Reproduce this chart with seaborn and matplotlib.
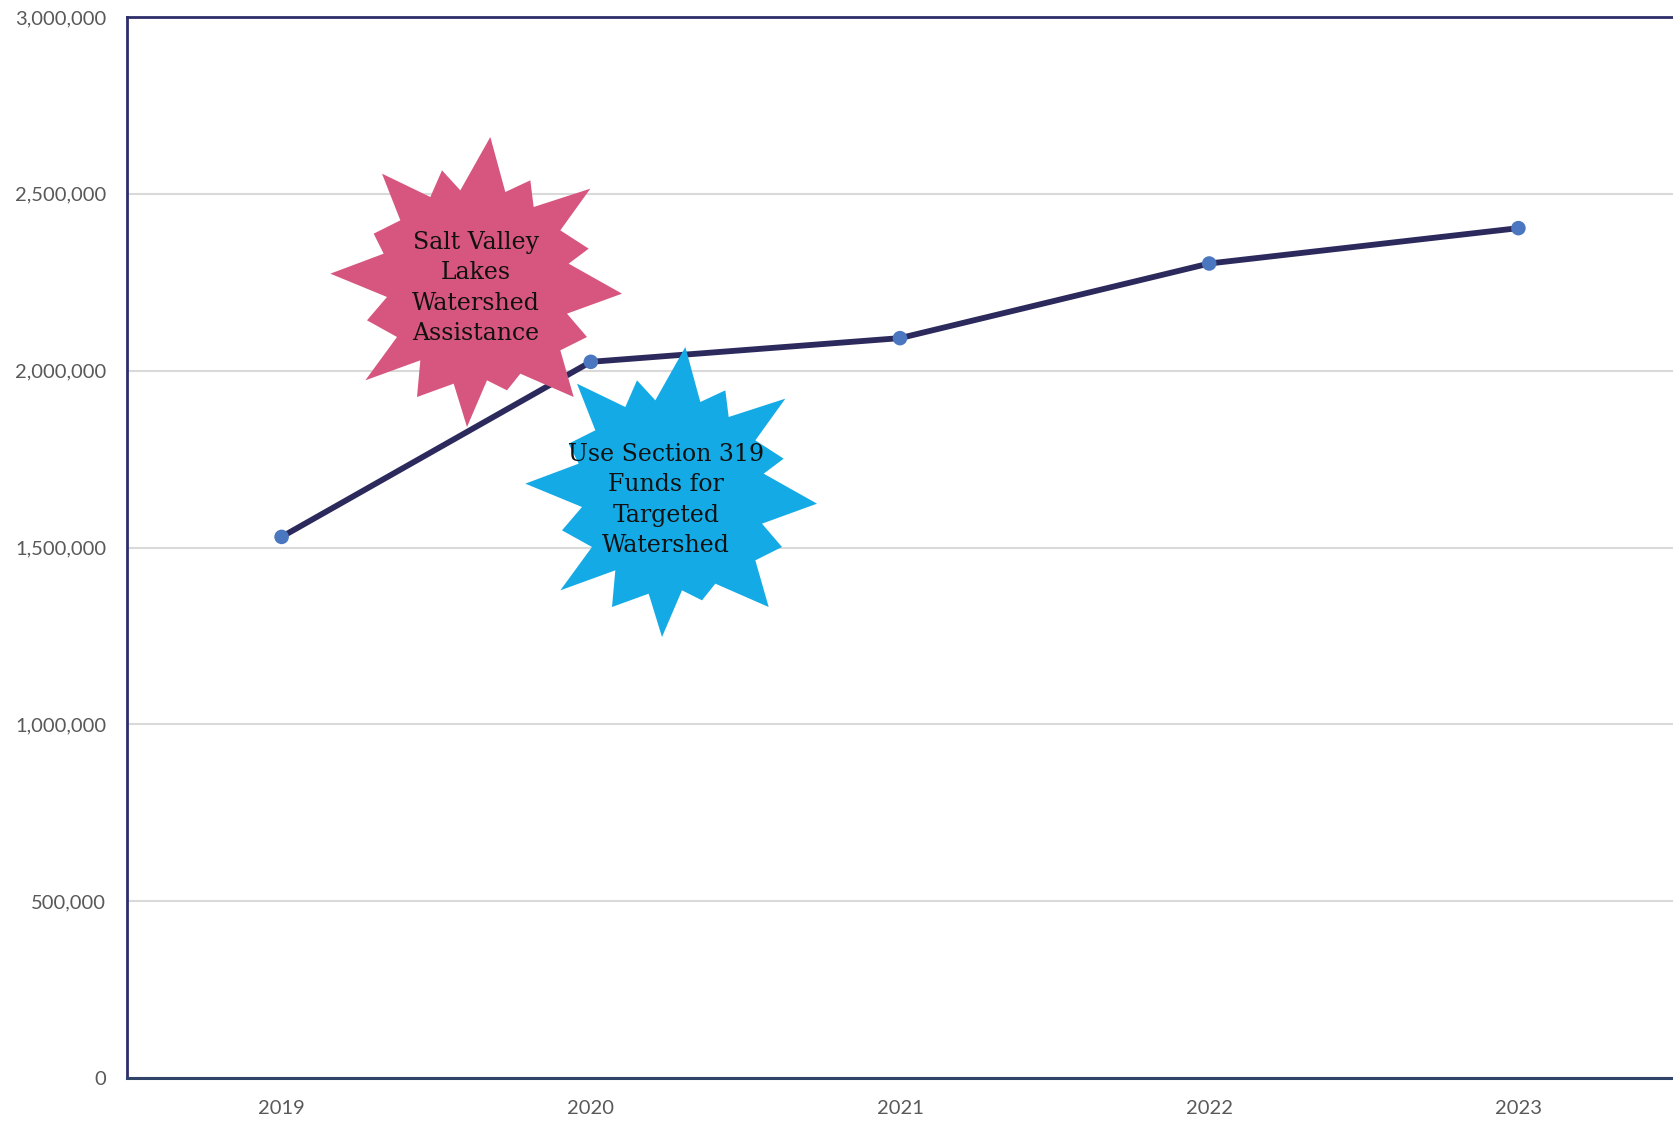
import matplotlib
matplotlib.use("Agg")
import matplotlib.pyplot as plt
import seaborn as sns
import pandas as pd
from matplotlib.patches import Polygon
from matplotlib.ticker import FuncFormatter

# ---- data ----
years = ["2019", "2020", "2021", "2022", "2023"]
values = [1530000, 2025000, 2092000, 2303000, 2403000]
y_ticks = [0, 500000, 1000000, 1500000, 2000000, 2500000, 3000000]

callout_texts = ["Salt Valley\nLakes\nWatershed\nAssistance",
                 "Use Section 319\nFunds for\nTargeted\nWatershed"]

W, H = 1673, 1122
sns.set_theme(style="white")
plt.rcParams['font.family'] = ['Lato', 'DejaVu Sans']

fig = plt.figure(figsize=(W / 100, H / 100), dpi=100)
ax = fig.add_axes([127 / W, 1 - 1078 / H, 1 - 127 / W, (1078 - 17) / H])

df = pd.DataFrame({"year": years, "value": values})
navy = "#2c2a5c"
sns.lineplot(data=df, x="year", y="value", color=navy, linewidth=4.2,
             ax=ax, zorder=5)
sns.scatterplot(data=df, x="year", y="value", color="#4a77c0", s=110,
                edgecolor="none", ax=ax, zorder=6)

ax.set_xlim(-0.5, len(years) - 0.5)
ax.set_ylim(0, 3000000)
ax.set_yticks(y_ticks)
ax.yaxis.set_major_formatter(FuncFormatter(lambda v, p: f"{int(v):,}"))
ax.set_xlabel("")
ax.set_ylabel("")
ax.grid(axis="y", color="#d9d9d9", linewidth=1.5)
ax.set_axisbelow(True)
ax.tick_params(axis="both", length=0, labelsize=14.5, labelcolor="#595959")
ax.tick_params(axis="y", pad=15)
ax.tick_params(axis="x", pad=16)
for s in ["left", "top"]:
    ax.spines[s].set_color("#2e2e6a")
    ax.spines[s].set_linewidth(2)
ax.spines["bottom"].set_color("#2f4468")
ax.spines["bottom"].set_linewidth(2.2)
ax.spines["right"].set_visible(False)

# ---- starburst callouts (shape in pixel offsets from centre) ----
shape = [(510, 50), (555, 215), (630, 180), (640, 260), (810, 205), (720, 330),
         (805, 385), (745, 430), (905, 520), (740, 580), (800, 650), (720, 690),
         (760, 830), (600, 760), (560, 810), (500, 780), (440, 920), (400, 790),
         (290, 830), (300, 720), (135, 780), (230, 650), (140, 600), (200, 530),
         (30, 460), (190, 400), (160, 340), (240, 300), (185, 160), (330, 230),
         (365, 150), (420, 210)]
offs = [((zx - 467) / 3, (zy - 485) / 3) for zx, zy in shape]

def star(cx, cy, color, z):
    pts = [((cx + dx) / W, 1 - (cy + dy) / H) for dx, dy in offs]
    fig.add_artist(Polygon(pts, closed=True, facecolor=color, edgecolor="none",
                           transform=fig.transFigure, zorder=z))

star(476, 282, "#d6567f", 2)
star(671, 492, "#14aae6", 3)

fig.text(476 / W, 1 - 288 / H, callout_texts[0], ha="center", va="center",
         fontsize=17, family=["DejaVu Serif"], color="#111111",
         linespacing=1.42, zorder=4)
fig.text(666 / W, 1 - 500 / H, callout_texts[1], ha="center", va="center",
         fontsize=17, family=["DejaVu Serif"], color="#111111",
         linespacing=1.42, zorder=4)

fig.savefig("out.png", dpi=100)
